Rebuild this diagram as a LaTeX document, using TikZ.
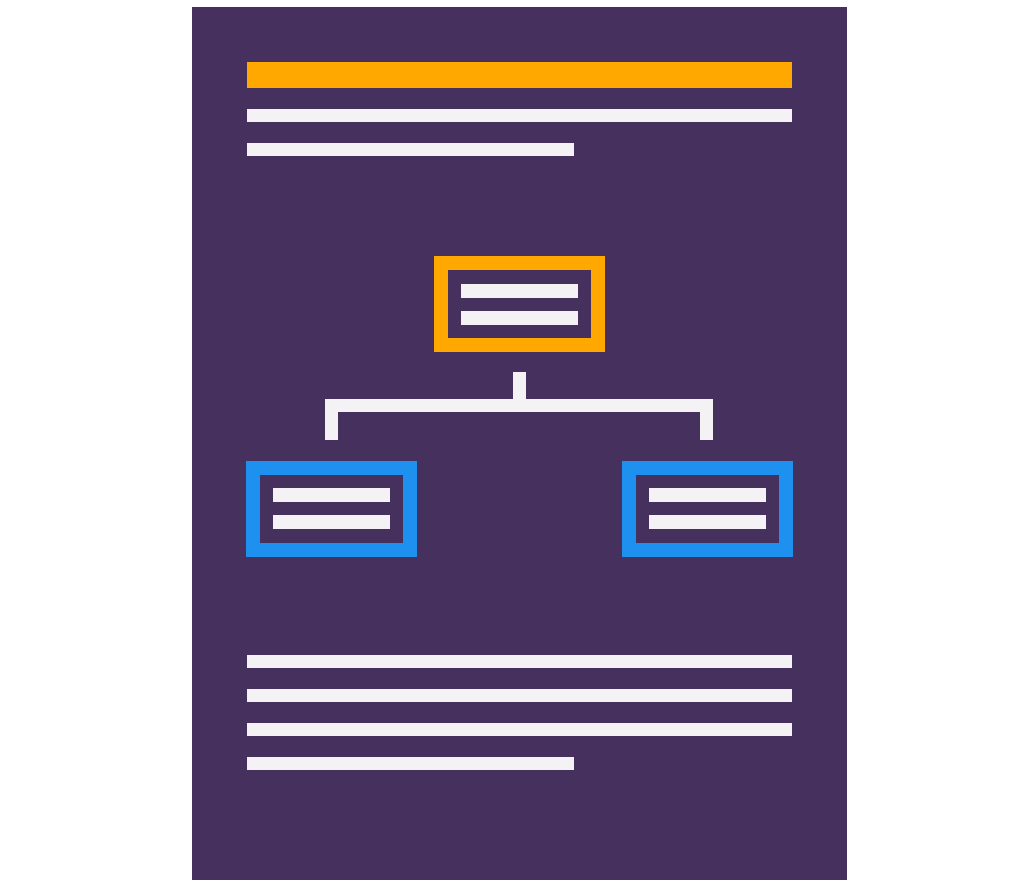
\documentclass[tikz,border=0pt]{standalone}
\usepackage{tikz}
\usetikzlibrary{positioning}

\definecolor{pagebg}{HTML}{45305E}
\definecolor{orangebar}{HTML}{FFA800}
\definecolor{bluebox}{HTML}{1E90F0}
\definecolor{textline}{HTML}{F4F2F5}

\tikzset{
  chartbox/.style={draw, line width=14pt, minimum width=157pt, minimum height=82pt, inner sep=0pt},
  rootbox/.style={chartbox, draw=orangebar},
  leafbox/.style={chartbox, draw=bluebox},
  branch/.style={draw=textline, line width=13.5pt, line join=miter}
}

\begin{document}
\begin{tikzpicture}[x=1pt, y=-1pt]
      \useasboundingbox (0,0) rectangle (1023,883);
      \fill[pagebg] (192,7) rectangle (847,880);
      % heading and intro lines
      \fill[orangebar] (247,62) rectangle (792,88);
      \fill[textline] (247,109) rectangle (792,122);
      \fill[textline] (247,143) rectangle (574,156);

      \node[rootbox] (root) at (519.5,304) {};
      \node[leafbox] (left) at (331.5,508.5) {};
      \node[leafbox] (right) at (707,508.5) {};
      \foreach \b in {root, left, right} {
        \fill[textline] ([shift={(-58.5,-20.5)}]\b.center) rectangle ([shift={(58.5,-6.5)}]\b.center);
        \fill[textline] ([shift={(-58.5,6.5)}]\b.center) rectangle ([shift={(58.5,20.5)}]\b.center);
      }

      \coordinate (stem) at (519.5,372);
      \coordinate (fork) at (519.5,405.5);
      \coordinate (legl) at (331.5,440);
      \coordinate (legr) at (706.5,440);
      \path[branch] (stem) -- (fork);
      \path[branch] (legl) |- (fork) -| (legr);

      % body text lines
      \foreach \y in {655, 689, 723}
        \fill[textline] (247,\y) rectangle (792,\y+13);
      \fill[textline] (247,757) rectangle (574,770);
    \end{tikzpicture}
\end{document}
